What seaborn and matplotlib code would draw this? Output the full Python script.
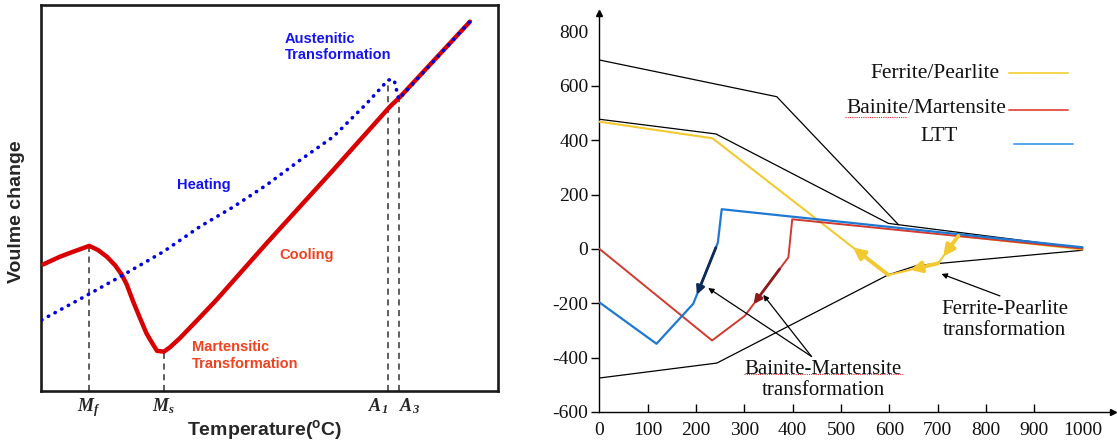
import numpy as np
import pandas as pd
import matplotlib
matplotlib.use("Agg")
import matplotlib.pyplot as plt
import seaborn as sns

sns.set_theme(style="white")
plt.rcParams['font.family'] = ['Liberation Serif', 'DejaVu Sans']
plt.rcParams['mathtext.fontset'] = 'custom'
plt.rcParams['mathtext.rm'] = 'Liberation Sans'
plt.rcParams['mathtext.bf'] = 'Liberation Sans:bold'
plt.rcParams['mathtext.bfit'] = 'Liberation Serif:italic:bold'
plt.rcParams['axes.unicode_minus'] = False

# ---------------- Left panel (schematic dilatometry, arbitrary units) ----------------
cool_x = [0.5, 4.16, 7.07, 10.57, 12.5, 14.4, 16.2, 17.7, 18.8, 20.2, 21.7, 23.1, 24.6, 25.4, 26.9,
          28.2, 30.4, 34.8, 38.4, 49.4, 64.0, 76.4, 78.6, 93.9]
cool_y = [32.8, 34.8, 36.1, 37.6, 36.5, 34.8, 32.6, 30.1, 27.5, 23.1, 18.8, 14.9, 11.9, 10.4, 10.2,
          11.3, 13.7, 19.1, 23.6, 38.3, 57.3, 73.7, 76.2, 95.7]
heat_x = [0.15, 10.2, 17.3, 26.8, 34.8, 42.1, 49.4, 56.7, 64.0, 71.3, 76.0, 77.3, 78.3, 93.9]
heat_y = [18.4, 24.9, 29.6, 36.1, 42.6, 47.7, 53.4, 59.8, 65.9, 74.5, 80.6, 80.6, 75.6, 95.7]
crit_temps = [10.57, 26.9, 76.0, 78.3]
crit_tops = [37.6, 10.2, 80.6, 75.6]
crit_labels = [r'$\mathbfit{M_f}$', r'$\mathbfit{M_s}$', r'$\mathbfit{A_1}$', r'$\mathbfit{A_3}$']

# ---------------- Right panel (stress vs temperature) ----------------
temp_ticks = [0, 100, 200, 300, 400, 500, 600, 700, 800, 900, 1000]
stress_ticks = [-600, -400, -200, 0, 200, 400, 600, 800]
stress_labels = ['-600', '-400', '-200', '0', '200', '400', '600', '800']

fp_t = [0, 234, 598, 701, 743, 1000]
fp_s = [468, 407, -96, -53, 48, -2]
bm_t = [0, 233, 301, 391, 399, 1000]
bm_s = [0, -337, -246, -31, 109, 1]
ltt_t = [0, 118, 194, 245, 253, 1000]
ltt_s = [-197, -349, -202, 23, 146, 6]
env1_t = [0, 367, 619, 1000]
env1_s = [695, 560, 89, 3]
env2_t = [0, 241, 598, 619]
env2_s = [477, 423, 94, 89]
env3_t = [0, 243, 597, 657, 1000]
env3_s = [-475, -420, -96, -61, -5]

c_fp, c_bm, c_ltt = '#f2c930', '#d23a30', '#1f78d2'
c_fp_leg, c_bm_leg, c_ltt_leg = '#f6d54c', '#e45a4e', '#55a6f0'

fig = plt.figure(figsize=(11.17, 4.48), dpi=100)

# ======== Left axes ========
ax1 = fig.add_axes([0.0367, 0.1272, 0.409, 0.8616])
ax1.set_xlim(0, 100)
ax1.set_ylim(0, 100)
for t, top in zip(crit_temps, crit_tops):
    ax1.plot([t, t], [0, top], color='#333333', lw=1.1, ls=(0, (4, 3)), zorder=1)
sns.lineplot(x=cool_x, y=cool_y, sort=False, estimator=None, color='#d80000',
             lw=3.2, ax=ax1, zorder=3)
ax1.lines[-1].set_solid_joinstyle('round')
ax1.lines[-1].set_solid_capstyle('round')
sns.lineplot(x=heat_x, y=heat_y, sort=False, estimator=None, color='#0000e0',
             lw=2.6, ax=ax1, zorder=4)
ax1.lines[-1].set_linestyle((0, (0.1, 2.0)))
ax1.lines[-1].set_dash_capstyle('round')

ax1.set_xticks(crit_temps)
ax1.set_xticklabels(crit_labels, fontsize=13)
labs = ax1.get_xticklabels()
labs[2].set_ha('right')
labs[3].set_ha('left')
ax1.tick_params(axis='x', length=0, pad=4)
ax1.set_yticks([])
for sp in ax1.spines.values():
    sp.set_visible(True)
    sp.set_color('#1a1a1a')
    sp.set_linewidth(1.9)

sans = dict(family='Liberation Sans', fontweight='bold', fontsize=10.5)
ax1.text(53.4, 89.1, 'Austenitic\nTransformation', color='#1414f0', ha='left', va='center',
         linespacing=1.2, **sans)
ax1.text(29.8, 53.4, 'Heating', color='#1414f0', ha='left', va='center', **sans)
ax1.text(52.1, 35.2, 'Cooling', color='#f0421f', ha='left', va='center', **sans)
ax1.text(33.0, 9.2, 'Martensitic\nTransformation', color='#f0421f', ha='left', va='center',
         linespacing=1.2, **sans)
fig.text(0.0152, 0.527, 'Voulme change', rotation=90, ha='center', va='center',
         family='Liberation Sans', fontweight='bold', fontsize=14)
fig.text(0.2372, 0.038, r'Temperature($^{\mathbf{o}}$C)', ha='center', va='center',
         family='Liberation Sans', fontweight='bold', fontsize=14)

# ======== Right axes ========
ax2 = fig.add_axes([0.5367, 0.0804, 0.4597, 0.8906])
ax2.set_xlim(0, 1063)
ax2.set_ylim(-600, 868)

for et, es in [(env1_t, env1_s), (env2_t, env2_s), (env3_t, env3_s)]:
    sns.lineplot(x=et, y=es, sort=False, estimator=None, color='black', lw=0.9, ax=ax2, zorder=2)
sns.lineplot(x=fp_t, y=fp_s, sort=False, estimator=None, color=c_fp, lw=1.5, ax=ax2, zorder=3)
sns.lineplot(x=bm_t, y=bm_s, sort=False, estimator=None, color=c_bm, lw=1.4, ax=ax2, zorder=3)
sns.lineplot(x=ltt_t, y=ltt_s, sort=False, estimator=None, color=c_ltt, lw=1.6, ax=ax2, zorder=4)


def seg_point(ts, ss, i, f):
    return (ts[i] + f * (ts[i + 1] - ts[i]), ss[i] + f * (ss[i + 1] - ss[i]))


def flow_arrow(ts, ss, i, f0, f1, color, lw, ms):
    ax2.annotate('', xy=seg_point(ts, ss, i, f1), xytext=seg_point(ts, ss, i, f0),
                 arrowprops=dict(arrowstyle='-|>', color=color, lw=lw, mutation_scale=ms,
                                 shrinkA=0, shrinkB=0), zorder=5)


# cooling-path arrows on the coloured curves
flow_arrow(ltt_t, ltt_s, 2, 0.92, 0.15, '#0d2b57', 2.0, 12)
flow_arrow(bm_t, bm_s, 2, 0.8, 0.2, '#8e1c1c', 2.0, 12)
flow_arrow(fp_t, fp_s, 3, 1.0, 0.25, c_fp, 2.8, 16)
flow_arrow(fp_t, fp_s, 2, 1.0, 0.44, c_fp, 2.8, 16)
flow_arrow(fp_t, fp_s, 1, 1.0, 0.80, c_fp, 2.8, 16)

# annotations
ann = dict(arrowstyle='-|>', color='black', lw=0.9, mutation_scale=8, shrinkA=0, shrinkB=0)
ax2.annotate('', xy=(225, -144), xytext=(439, -396), arrowprops=ann)
ax2.annotate('', xy=(339, -169), xytext=(439, -396), arrowprops=ann)
ax2.annotate('', xy=(708, -92), xytext=(829, -173), arrowprops=ann)
ax2.text(463, -482, 'Bainite-Martensite\ntransformation', ha='center', va='center',
         fontsize=15, linespacing=1.1, color='#111111')
ax2.text(839, -261, 'Ferrite-Pearlite\ntransformation', ha='center', va='center',
         fontsize=15, linespacing=1.1, color='#111111')
ax2.plot([0.281, 0.591], [0.0945, 0.0945], transform=ax2.transAxes, color='#e03030',
         lw=0.8, ls=(0, (1, 1)), clip_on=False)

# manual legend (labels left of their line keys)
tr = ax2.transAxes
ax2.text(0.780, 0.8489, 'Ferrite/Pearlite', transform=tr, ha='right', va='center', fontsize=15.5,
         color='#111111')
ax2.plot([0.798, 0.913], [0.8489, 0.8489], transform=tr, color=c_fp_leg, lw=1.4)
ax2.text(0.793, 0.7612, 'Bainite/Martensite', transform=tr, ha='right', va='center', fontsize=15.5,
         color='#111111')
ax2.plot([0.798, 0.913], [0.757, 0.757], transform=tr, color=c_bm_leg, lw=1.4)
ax2.plot([0.478, 0.599], [0.740, 0.740], transform=tr, color='#e03030', lw=0.8, ls=(0, (1, 1)))
ax2.text(0.661, 0.690, 'LTT', transform=tr, ha='center', va='center', fontsize=15.5,
         color='#111111')
ax2.plot([0.808, 0.923], [0.6717, 0.6717], transform=tr, color=c_ltt_leg, lw=1.4)

# axes styling
for s in ['top', 'right']:
    ax2.spines[s].set_visible(False)
for s in ['left', 'bottom']:
    ax2.spines[s].set_visible(True)
    ax2.spines[s].set_color('black')
    ax2.spines[s].set_linewidth(1.0)
ax2.plot(0, 1, marker='^', color='black', ms=5, transform=tr, clip_on=False)
ax2.plot(1, 0, marker='>', color='black', ms=5, transform=tr, clip_on=False)

ax2.set_xticks(temp_ticks)
ax2.set_xticklabels([str(t) for t in temp_ticks], fontsize=14)
ax2.set_yticks(stress_ticks)
ax2.set_yticklabels(stress_labels, fontsize=14)
ax2.tick_params(axis='x', direction='in', length=6, width=1, color='black', pad=7,
                bottom=True, labelcolor='#111111')
ax2.tick_params(axis='y', direction='out', length=6, width=1, color='black', pad=2,
                left=True, labelcolor='#111111')
ax2.xaxis.get_major_ticks()[-1].tick1line.set_visible(False)
ax2.xaxis.get_major_ticks()[0].tick1line.set_visible(False)
ax2.yaxis.get_major_ticks()[-1].tick1line.set_visible(False)
ax2.set_xlabel('')
ax2.set_ylabel('')
ax1.set_xlabel('')
ax1.set_ylabel('')

fig.savefig('out.png', dpi=100)
